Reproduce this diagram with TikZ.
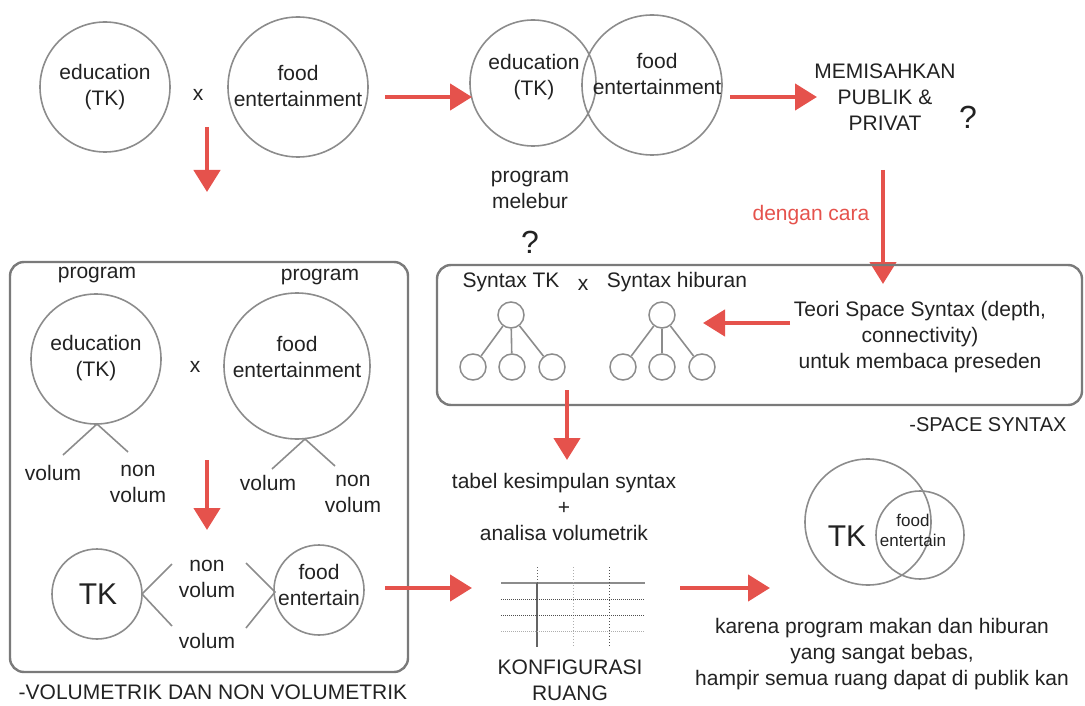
\documentclass[tikz,border=0pt]{standalone}
\usepackage{fontspec}
\setmainfont{Liberation Sans}
\usetikzlibrary{arrows.meta}
\definecolor{redarr}{HTML}{E5524C}
\definecolor{gline}{HTML}{8C8C8C}
\definecolor{fline}{HTML}{7A7A7A}
\definecolor{txt}{HTML}{222222}
\tikzset{
  ring/.style={circle, draw=gline, line width=1.6pt, inner sep=0pt},
  lbl/.style={text=txt, align=center, font=\fontsize{21}{26}\selectfont, inner sep=0pt},
  sml/.style={text=txt, align=center, font=\fontsize{17}{20}\selectfont, inner sep=0pt},
  bigq/.style={text=txt, font=\fontsize{32}{34}\selectfont, inner sep=0pt},
  bigtk/.style={text=txt, font=\fontsize{30}{32}\selectfont, inner sep=0pt},
  redarrow/.style={draw=redarr, line width=4.5pt, -{Triangle[width=26pt,length=22pt]}},
  gl/.style={draw=gline, line width=1.6pt},
  frame/.style={draw=fline, line width=2.4pt, rounded corners=14pt},
  treenode/.style={circle, draw=gline, line width=1.5pt, minimum size=26pt, inner sep=0pt}
}
\begin{document}
\begin{tikzpicture}[x=1pt,y=-1pt]
\useasboundingbox (0,0) rectangle (1085,706);
% top row
\node[ring, minimum size=130pt] (edu1) at (105,87) {};
\node[lbl] (edu1t) at (105,87) {education\\(TK)};
\node[lbl] (x1) at (198,95) {x};
\node[ring, minimum size=140pt] (food1) at (298,87) {};
\node[lbl] (food1t) at (298,86) {food\\entertainment};
\node[ring, minimum size=126pt] (edu2) at (533,83) {};
\node[ring, minimum size=140pt] (food2) at (652,85) {};
\node[lbl] (edu2t) at (534,77) {education\\(TK)};
\node[lbl] (food2t) at (657,74) {food\\entertainment};
\node[lbl] (memis) at (885,97) {MEMISAHKAN\\PUBLIK \&\\PRIVAT};
\node[bigq] (q1) at (968,117) {?};
\node[lbl] (melebur) at (530,190) {program\\melebur};
\node[bigq] (q2) at (530,242) {?};
\node[lbl, text=redarr] (dengan) at (811,215) {dengan cara};
\coordinate (a1s) at (385,97); \coordinate (a1e) at (472,97);
\draw[redarrow] (a1s) -- (a1e);
\coordinate (a2s) at (730,97); \coordinate (a2e) at (817,97);
\draw[redarrow] (a2s) -- (a2e);
\coordinate (a3s) at (883,170); \coordinate (a3e) at (883,284);
\draw[redarrow] (a3s) -- (a3e);
\coordinate (a4s) at (207,127); \coordinate (a4e) at (207,192);
\draw[redarrow] (a4s) -- (a4e);
% left box
\node[frame, minimum width=398pt, minimum height=410pt] (lbox) at (209,467) {};
\node[lbl] (prog1) at (97,275) {program};
\node[lbl] (prog2) at (320,277) {program};
\node[ring, minimum size=130pt] (edu3) at (96,359) {};
\node[lbl] (edu3t) at (96,358) {education\\(TK)};
\node[lbl] (x2) at (195,367) {x};
\node[ring, minimum size=146pt] (food3) at (297,366) {};
\node[lbl] (food3t) at (297,357) {food\\entertainment};
\coordinate (e3b) at (97,424); \coordinate (e3l) at (63,455); \coordinate (e3r) at (128,452);
\draw[gl] (e3l) -- (e3b) -- (e3r);
\coordinate (f3b) at (305,439); \coordinate (f3l) at (272,469); \coordinate (f3r) at (335,466);
\draw[gl] (f3l) -- (f3b) -- (f3r);
\node[lbl] (vol1) at (53,473) {volum};
\node[lbl] (nvol1) at (138,484) {non\\volum};
\node[lbl] (vol2) at (268,483) {volum};
\node[lbl] (nvol2) at (353,494) {non\\volum};
\coordinate (a5s) at (207,460); \coordinate (a5e) at (207,530);
\draw[redarrow] (a5s) -- (a5e);
\node[ring, minimum size=90pt] (tk1) at (97,594) {};
\node[bigtk] (tk1t) at (98,594) {TK};
\node[ring, minimum size=90pt] (food4) at (319,590) {};
\node[lbl] (food4t) at (319,585) {food\\entertain};
\coordinate (tkv) at (142,594); \coordinate (tkvu) at (172,564); \coordinate (tkvd) at (172,626);
\draw[gl] (tkvu) -- (tkv) -- (tkvd);
\coordinate (fv) at (275,592); \coordinate (fvu) at (246,563); \coordinate (fvd) at (246,628);
\draw[gl] (fvu) -- (fv) -- (fvd);
\node[lbl] (nvol3) at (207,579) {non\\volum};
\node[lbl] (vol3) at (207,641) {volum};
\node[lbl] (volcap) at (213,692) {-VOLUMETRIK DAN NON VOLUMETRIK};
\coordinate (a6s) at (385,588); \coordinate (a6e) at (472,588);
\draw[redarrow] (a6s) -- (a6e);
% right box
\node[frame, minimum width=645pt, minimum height=140pt] (rbox) at (759.5,335) {};
\node[lbl] (syntk) at (511,282) {Syntax TK};
\node[lbl] (x3) at (583,285) {x};
\node[lbl] (synhib) at (677,282) {Syntax hiburan};
\node[treenode] (t1r) at (511,315) {};
\node[treenode] (t1a) at (473,367) {};
\node[treenode] (t1b) at (512,367) {};
\node[treenode] (t1c) at (552,367) {};
\draw[gl] (t1r) -- (t1a); \draw[gl] (t1r) -- (t1b); \draw[gl] (t1r) -- (t1c);
\node[treenode] (t2r) at (662,315) {};
\node[treenode] (t2a) at (623,367) {};
\node[treenode] (t2b) at (662,367) {};
\node[treenode] (t2c) at (702,367) {};
\draw[gl] (t2r) -- (t2a); \draw[gl] (t2r) -- (t2b); \draw[gl] (t2r) -- (t2c);
\coordinate (a7s) at (790,323); \coordinate (a7e) at (703,323);
\draw[redarrow] (a7s) -- (a7e);
\node[lbl] (teori) at (920,337) {Teori Space Syntax (depth,\\connectivity)\\untuk membaca preseden};
\node[lbl, font=\fontsize{20}{24}\selectfont] (sscap) at (988,425) {-SPACE SYNTAX};
\coordinate (a8s) at (567,390); \coordinate (a8e) at (567,460);
\draw[redarrow] (a8s) -- (a8e);
\node[lbl] (tabel) at (564,507) {tabel kesimpulan syntax\\+\\analisa volumetrik};
% table
\coordinate (h0l) at (501,583); \coordinate (h0r) at (645,583);
\draw[gl, line width=1.5pt] (h0l) -- (h0r);
\coordinate (v0t) at (537,583); \coordinate (v0b) at (537,647);
\draw[draw=txt!70, line width=1.3pt] (v0t) -- (v0b);
\coordinate (v1t) at (537,567); \draw[txt!70, dotted, line width=1pt] (v1t) -- (v0t);
\coordinate (v2t) at (573,567); \coordinate (v2b) at (573,647);
\draw[gline!70, dotted, line width=1pt] (v2t) -- (v2b);
\coordinate (v3t) at (609,567); \coordinate (v3b) at (609,647);
\draw[txt!80, dotted, line width=1pt] (v3t) -- (v3b);
\coordinate (h1l) at (501,599); \coordinate (h1r) at (645,599);
\draw[txt!80, densely dotted, line width=1pt] (h1l) -- (h1r);
\coordinate (h2l) at (501,615); \coordinate (h2r) at (645,615);
\draw[txt!80, densely dotted, line width=1pt] (h2l) -- (h2r);
\coordinate (h3l) at (501,631); \coordinate (h3r) at (645,631);
\draw[gline!70, densely dotted, line width=1pt] (h3l) -- (h3r);
\node[lbl] (konf) at (570,680) {KONFIGURASI\\RUANG};
\coordinate (a9s) at (680,588); \coordinate (a9e) at (770,588);
\draw[redarrow] (a9s) -- (a9e);
% final venn
\node[ring, minimum size=126pt] (tk2) at (868,522) {};
\node[ring, minimum size=88pt] (food5) at (920,535) {};
\node[bigtk] (tk2t) at (847,536) {TK};
\node[sml] (food5t) at (913,530) {food\\entertain};
\node[lbl] (karena) at (882,654) {karena program makan dan hiburan\\yang sangat bebas,\\hampir semua ruang dapat di publik kan};
\end{tikzpicture}
\end{document}
